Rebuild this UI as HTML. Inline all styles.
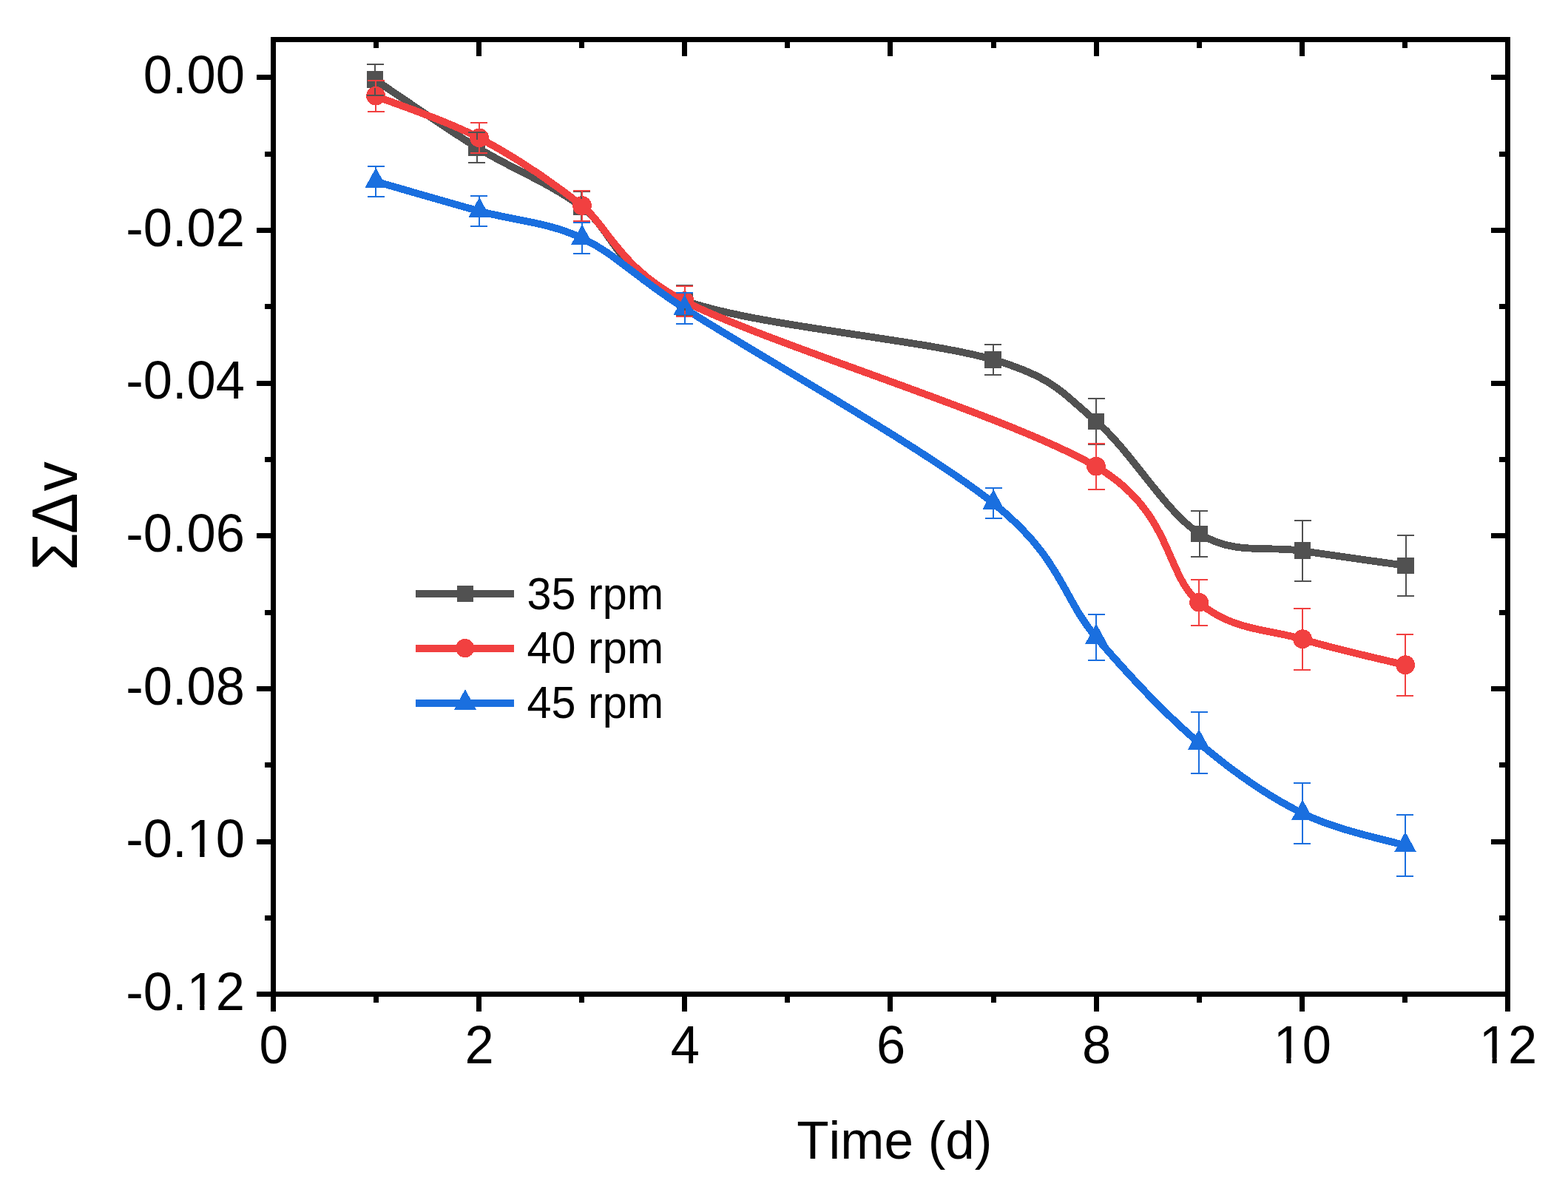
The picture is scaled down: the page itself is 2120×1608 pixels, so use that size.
<!DOCTYPE html>
<html lang="en">
<head>
<meta charset="utf-8">
<title>&#931;&#916;v vs Time (d)</title>
<style>
html,body{margin:0;padding:0;background:#fff;}
body{width:2120px;height:1608px;overflow:hidden;}
svg{display:block;}
</style>
</head>
<body>
<svg width="2120" height="1608" viewBox="0 0 2120 1608" role="img" aria-label="Line chart of cumulative change versus time for 35, 40 and 45 rpm">
<rect width="2120" height="1608" fill="#fff"/>
<g shape-rendering="crispEdges">
<g fill="#515151" stroke="none">
<path d="M507.2 108C530.2 123.27 598.73 171 645.2 199.6C691.67 228.2 739.28 245.13 786 279.6C832.72 314.07 833.6 372.28 925.5 406.4C1018.37 440.88 1250.42 459.23 1343.2 486.5C1424.1 510.27 1435.7 530.75 1482.2 570C1528.7 609.25 1575.7 692.83 1622.2 722C1668.7 751.17 1714.7 737.83 1761.2 745C1807.7 752.17 1877.87 761.67 1901.2 765" fill="none" stroke="#515151" stroke-width="9.8" stroke-linejoin="round"/>
<rect x="496" y="96" width="22" height="23"/>
<rect x="633" y="188" width="23" height="23"/>
<rect x="775" y="269" width="22" height="22"/>
<rect x="915" y="395" width="22" height="23"/>
<rect x="1331" y="475" width="23" height="23"/>
<rect x="1471" y="559" width="22" height="22"/>
<rect x="1610" y="711" width="23" height="22"/>
<rect x="1750" y="733" width="22" height="23"/>
<rect x="1889" y="754" width="23" height="22"/>
</g>
<g fill="#F14040" stroke="none">
<path d="M508.1 130C531.43 139.43 601.62 161.87 648.1 186.6C694.58 211.33 740.77 241.58 787 278.4C821.77 306.09 837.7 362.95 925.5 407.5C1041.33 466.27 1366.07 563.08 1482 631C1585.49 691.63 1574.58 776.08 1621.1 815C1667.62 853.92 1714.6 850.42 1761.1 864.5C1807.6 878.58 1876.93 893.67 1900.1 899.5" fill="none" stroke="#F14040" stroke-width="9.8" stroke-linejoin="round"/>
<circle cx="508.1" cy="129.7" r="12.9"/>
<circle cx="648.1" cy="186.3" r="12.9"/>
<circle cx="787" cy="278.1" r="12.9"/>
<circle cx="925.5" cy="407.2" r="12.9"/>
<circle cx="1482" cy="630.7" r="12.9"/>
<circle cx="1621.1" cy="814.7" r="12.9"/>
<circle cx="1761.1" cy="864.2" r="12.9"/>
<circle cx="1900.1" cy="899.2" r="12.9"/>
</g>
<g fill="#1A6FDF" stroke="none">
<path d="M508.2 245.5C531.52 252.17 601.63 272.73 648.1 285.5C694.57 298.27 740.77 300.17 787 322.1C833.23 344.03 852.09 369.79 925.5 417.1C1018.18 476.83 1250.33 606.35 1343.1 680.5C1435.87 754.65 1435.78 807.98 1482.1 862C1528.42 916.02 1574.5 964.93 1621 1004.6C1667.5 1044.27 1714.6 1076.85 1761.1 1100C1807.6 1123.15 1876.85 1136.25 1900 1143.5" fill="none" stroke="#1A6FDF" stroke-width="9.8" stroke-linejoin="round"/>
<path d="M508.2 226.9L523.2 254.4L493.2 254.4Z"/>
<path d="M648.1 266.9L663.1 294.4L633.1 294.4Z"/>
<path d="M787 303.5L802 331L772 331Z"/>
<path d="M925.5 398.5L940.5 426L910.5 426Z"/>
<path d="M1343.1 661.9L1358.1 689.4L1328.1 689.4Z"/>
<path d="M1482.1 843.4L1497.1 870.9L1467.1 870.9Z"/>
<path d="M1621 986L1636 1013.5L1606 1013.5Z"/>
<path d="M1761.1 1081.4L1776.1 1108.9L1746.1 1108.9Z"/>
<path d="M1900 1124.9L1915 1152.4L1885 1152.4Z"/>
</g>
<path d="M496 86h23v2h-23zM496 128h23v2h-23zM506 88h2v9h-2zM506 119h2v9h-2zM633 178h23v2h-23zM633 219h23v2h-23zM644 180h2v9h-2zM644 211h2v8h-2zM775 258h23v2h-23zM775 299h23v2h-23zM785 260h2v9h-2zM785 291h2v8h-2zM914 385h23v2h-23zM914 426h23v2h-23zM925 387h2v8h-2zM925 417h2v9h-2zM1331 465h23v2h-23zM1331 506h23v2h-23zM1342 467h2v9h-2zM1342 498h2v8h-2zM1471 538h23v2h-23zM1471 600h23v2h-23zM1481 540h2v19h-2zM1481 581h2v19h-2zM1610 690h23v2h-23zM1610 752h23v2h-23zM1621 692h2v19h-2zM1621 733h2v19h-2zM1750 703h23v2h-23zM1750 785h23v2h-23zM1760 705h2v29h-2zM1760 756h2v29h-2zM1889 723h23v2h-23zM1889 805h23v2h-23zM1900 725h2v29h-2zM1900 776h2v29h-2z" fill="#515151"/>
<path d="M497 108h23v2h-23zM497 150h23v2h-23zM507 110h2v8h-2zM507 142h2v8h-2zM636 165h23v2h-23zM636 206h23v2h-23zM647 167h2v7h-2zM647 199h2v7h-2zM775 257h23v2h-23zM775 298h23v2h-23zM786 259h2v7h-2zM786 291h2v7h-2zM914 386h23v2h-23zM914 427h23v2h-23zM925 388h2v7h-2zM925 420h2v7h-2zM1471 599h23v2h-23zM1471 661h23v2h-23zM1481 601h2v17h-2zM1481 644h2v17h-2zM1610 783h23v2h-23zM1610 845h23v2h-23zM1620 785h2v17h-2zM1620 828h2v17h-2zM1749 822h23v2h-23zM1749 905h23v2h-23zM1760 824h2v28h-2zM1760 877h2v28h-2zM1888 857h23v2h-23zM1888 940h23v2h-23zM1899 859h2v28h-2zM1899 912h2v28h-2z" fill="#F14040"/>
<path d="M497 224h23v2h-23zM497 265h23v2h-23zM507 226h2v4h-2zM507 254h2v11h-2zM636 264h23v2h-23zM636 305h23v2h-23zM647 266h2v4h-2zM647 294h2v11h-2zM775 300h23v2h-23zM775 342h23v2h-23zM786 302h2v4h-2zM786 330h2v12h-2zM914 395h23v2h-23zM914 437h23v2h-23zM925 397h2v4h-2zM925 425h2v12h-2zM1332 659h23v2h-23zM1332 700h23v2h-23zM1342 661h2v3h-2zM1342 688h2v12h-2zM1471 830h23v2h-23zM1471 892h23v2h-23zM1481 832h2v14h-2zM1481 870h2v22h-2zM1610 962h23v2h-23zM1610 1045h23v2h-23zM1620 964h2v25h-2zM1620 1013h2v32h-2zM1749 1058h23v2h-23zM1749 1140h23v2h-23zM1760 1060h2v24h-2zM1760 1108h2v32h-2zM1888 1101h23v2h-23zM1888 1184h23v2h-23zM1899 1103h2v25h-2zM1899 1152h2v32h-2z" fill="#1A6FDF"/>
</g>
<g fill="#000" shape-rendering="crispEdges">
<rect x="366" y="50" width="1676" height="7"/>
<rect x="347" y="1341" width="1695" height="7"/>
<rect x="366" y="50" width="7" height="1318"/>
<rect x="2035" y="50" width="7" height="1318"/>
<rect x="505" y="1348" width="7" height="8"/>
<rect x="505" y="57" width="7" height="8"/>
<rect x="644" y="1348" width="7" height="20"/>
<rect x="644" y="57" width="7" height="19"/>
<rect x="783" y="1348" width="7" height="8"/>
<rect x="783" y="57" width="7" height="8"/>
<rect x="922" y="1348" width="7" height="20"/>
<rect x="922" y="57" width="7" height="19"/>
<rect x="1061" y="1348" width="7" height="8"/>
<rect x="1061" y="57" width="7" height="8"/>
<rect x="1200" y="1348" width="7" height="20"/>
<rect x="1200" y="57" width="7" height="19"/>
<rect x="1340" y="1348" width="7" height="8"/>
<rect x="1340" y="57" width="7" height="8"/>
<rect x="1479" y="1348" width="7" height="20"/>
<rect x="1479" y="57" width="7" height="19"/>
<rect x="1618" y="1348" width="7" height="8"/>
<rect x="1618" y="57" width="7" height="8"/>
<rect x="1757" y="1348" width="7" height="20"/>
<rect x="1757" y="57" width="7" height="19"/>
<rect x="1896" y="1348" width="7" height="8"/>
<rect x="1896" y="57" width="7" height="8"/>
<rect x="347" y="101" width="19" height="7"/>
<rect x="2016" y="101" width="19" height="7"/>
<rect x="358" y="205" width="8" height="7"/>
<rect x="2027" y="205" width="8" height="7"/>
<rect x="347" y="308" width="19" height="7"/>
<rect x="2016" y="308" width="19" height="7"/>
<rect x="358" y="411" width="8" height="7"/>
<rect x="2027" y="411" width="8" height="7"/>
<rect x="347" y="515" width="19" height="7"/>
<rect x="2016" y="515" width="19" height="7"/>
<rect x="358" y="618" width="8" height="7"/>
<rect x="2027" y="618" width="8" height="7"/>
<rect x="347" y="721" width="19" height="7"/>
<rect x="2016" y="721" width="19" height="7"/>
<rect x="358" y="825" width="8" height="7"/>
<rect x="2027" y="825" width="8" height="7"/>
<rect x="347" y="928" width="19" height="7"/>
<rect x="2016" y="928" width="19" height="7"/>
<rect x="358" y="1031" width="8" height="7"/>
<rect x="2027" y="1031" width="8" height="7"/>
<rect x="347" y="1135" width="19" height="7"/>
<rect x="2016" y="1135" width="19" height="7"/>
<rect x="358" y="1238" width="8" height="7"/>
<rect x="2027" y="1238" width="8" height="7"/>
</g>
<g font-family="'Liberation Sans', Arial, sans-serif" fill="#000" style="font-kerning:none">
<text transform="translate(330.9 126) scale(1 1.030)" font-size="70.5" text-anchor="end">0.00</text>
<text transform="translate(330.9 332.67) scale(1 1.030)" font-size="70.5" text-anchor="end">-0.02</text>
<text transform="translate(330.9 539.33) scale(1 1.030)" font-size="70.5" text-anchor="end">-0.04</text>
<text transform="translate(330.9 746) scale(1 1.030)" font-size="70.5" text-anchor="end">-0.06</text>
<text transform="translate(330.9 952.67) scale(1 1.030)" font-size="70.5" text-anchor="end">-0.08</text>
<text transform="translate(330.9 1159.33) scale(1 1.030)" font-size="70.5" text-anchor="end">-0.10</text>
<rect x="256.71" y="1152.31" width="13.5" height="8.02" fill="#fff"/>
<rect x="276.43" y="1152.31" width="12.7" height="8.02" fill="#fff"/>
<text transform="translate(330.9 1366) scale(1 1.030)" font-size="70.5" text-anchor="end">-0.12</text>
<rect x="256.71" y="1358.98" width="13.5" height="8.02" fill="#fff"/>
<rect x="276.43" y="1358.98" width="12.7" height="8.02" fill="#fff"/>
<text transform="translate(370 1437.6) scale(1 1.030)" font-size="70.5" text-anchor="middle">0</text>
<text transform="translate(648.17 1437.6) scale(1 1.030)" font-size="70.5" text-anchor="middle">2</text>
<text transform="translate(926.33 1437.6) scale(1 1.030)" font-size="70.5" text-anchor="middle">4</text>
<text transform="translate(1204.5 1437.6) scale(1 1.030)" font-size="70.5" text-anchor="middle">6</text>
<text transform="translate(1482.67 1437.6) scale(1 1.030)" font-size="70.5" text-anchor="middle">8</text>
<text transform="translate(1760.83 1437.6) scale(1 1.030)" font-size="70.5" text-anchor="middle">10</text>
<rect x="1725.85" y="1430.58" width="13.5" height="8.02" fill="#fff"/>
<rect x="1745.58" y="1430.58" width="12.7" height="8.02" fill="#fff"/>
<text transform="translate(2039 1437.6) scale(1 1.030)" font-size="70.5" text-anchor="middle">12</text>
<rect x="2004.02" y="1430.58" width="13.5" height="8.02" fill="#fff"/>
<rect x="2023.74" y="1430.58" width="12.7" height="8.02" fill="#fff"/>
<text transform="translate(1077.2 1566.9) scale(1 1.030)" font-size="71" text-anchor="start">Time (d)</text>
<text transform="translate(104 771.4) rotate(-90) scale(1 1.050)" font-size="83" text-anchor="start">&#931;<tspan dx="-2">&#916;</tspan><tspan dx="2.3" font-size="80">v</tspan></text>
<g fill="#515151" shape-rendering="crispEdges"><rect x="562" y="798.1" width="133" height="9.8"/><rect x="618" y="792" width="22" height="22"/></g>
<text transform="translate(712.6 824) scale(1 1.015)" font-size="59.3" text-anchor="start">35 rpm</text>
<g fill="#F14040" shape-rendering="crispEdges"><rect x="562" y="872.3" width="133" height="9.8"/><circle cx="628.7" cy="876.6" r="12.6"/></g>
<text transform="translate(712.6 897.4) scale(1 1.015)" font-size="59.3" text-anchor="start">40 rpm</text>
<g fill="#1A6FDF" shape-rendering="crispEdges"><rect x="562" y="945.7" width="133" height="9.8"/><path d="M628.9 932.2L643.9 959.7L613.9 959.7Z"/></g>
<text transform="translate(712.6 971) scale(1 1.015)" font-size="59.3" text-anchor="start">45 rpm</text>
</g>
</svg>
</body>
</html>
